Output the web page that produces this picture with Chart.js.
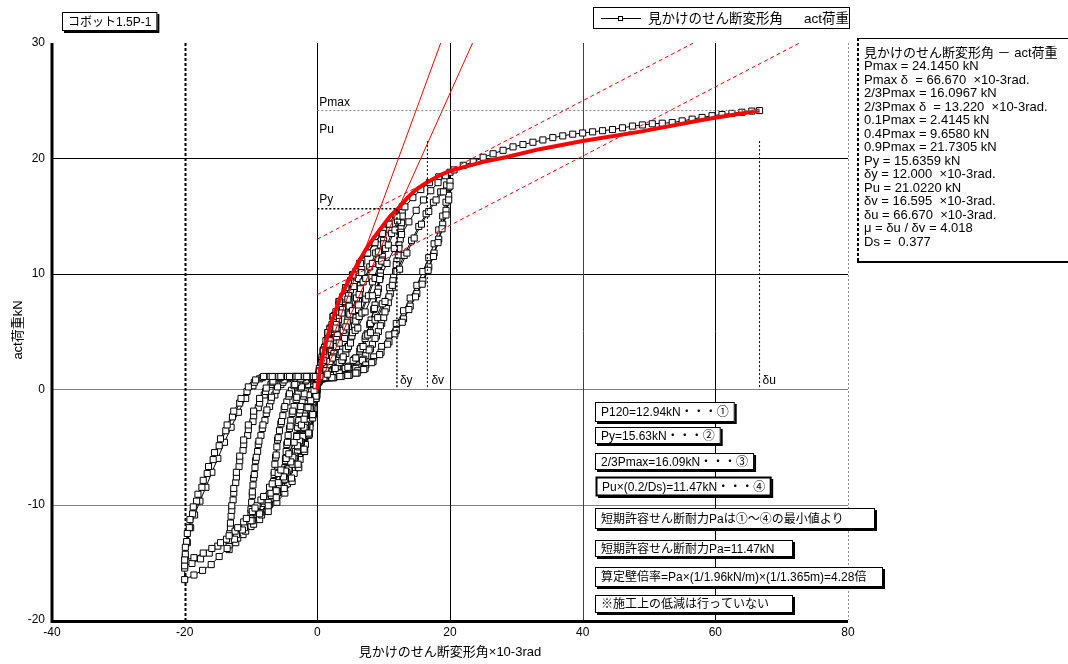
<!DOCTYPE html>
<html lang="ja">
<head>
<meta charset="UTF-8">
<title>見かけのせん断変形角 - act荷重</title>
<script src="https://cdn.jsdelivr.net/npm/chart.js"></script>
<style>
  body { margin: 0; background: #fff; }
  .janela { position: relative; width: 1068px; height: 664px; }
</style>
</head>
<body>
<div class="janela"><canvas id="grafico-histerese"></canvas></div>
<script>
// 履歴ループ (x: 見かけのせん断変形角 ×10-3rad, y: act荷重 kN)
const cyc450 = [
  [0,0],[0.3,1.2],[0.7,2.5],[1.1,3.6],[1.6,4.6],[2.2,5.6],
  [2.1,4.5],[1.9,3.4],[1.6,2.3],[1.2,1.5],[0.7,1.1],[0.2,0.6],
  [-0.2,-0.8],[-0.6,-2.0],[-1.1,-3.0],[-1.6,-3.7],[-2.2,-4.3],
  [-2.1,-3.2],[-1.9,-2.1],[-1.6,-1.0],[-1.2,0.0],[-0.7,0.7],[-0.2,1.0],
  [0.3,1.5],[0.7,2.6],[1.2,3.7],[1.7,4.5],[2.2,5.2],
  [2.0,4.0],[1.8,2.9],[1.4,1.9],[0.9,1.2],[0.4,0.8],
  [-0.1,-0.4],[-0.6,-1.7],[-1.1,-2.7],[-1.7,-3.4],[-2.2,-4.0],
  [-2.0,-2.9],[-1.8,-1.8],[-1.4,-0.7],[-0.9,0.4],[-0.4,0.9],
  [0.2,1.2],[0.8,2.6],[1.3,3.7],[1.8,4.4],[2.2,5.0],
  [2.0,3.8],[1.7,2.6],[1.3,1.6],[0.8,1.0],[0.3,0.7],
  [-0.2,-0.6],[-0.7,-1.8],[-1.2,-2.8],[-1.7,-3.4],[-2.2,-3.9],
  [-2.0,-2.7],[-1.7,-1.6],[-1.3,-0.5],[-0.8,0.5],[-0.3,0.9]
];
const cyc300 = [
  [0.2,1.2],[0.7,2.8],[1.3,4.2],[1.9,5.3],[2.6,6.4],[3.3,7.3],
  [3.2,6.0],[3.0,4.7],[2.7,3.5],[2.2,2.4],[1.6,1.6],[1.0,1.2],[0.4,0.9],
  [-0.1,-0.5],[-0.6,-1.8],[-1.2,-3.0],[-1.8,-4.0],[-2.5,-5.0],[-3.3,-5.9],
  [-3.2,-4.6],[-3.0,-3.3],[-2.7,-2.1],[-2.3,-1.0],[-1.8,0.0],[-1.2,0.7],[-0.6,1.0],
  [0.0,1.1],[0.5,2.1],[1.0,3.2],[1.6,4.3],[2.2,5.3],[2.8,6.1],[3.3,6.8],
  [3.1,5.5],[2.9,4.3],[2.5,3.1],[2.0,2.1],[1.4,1.4],[0.8,1.1],[0.2,0.8],
  [-0.3,-0.6],[-0.8,-1.7],[-1.4,-2.9],[-2.0,-3.9],[-2.7,-4.8],[-3.3,-5.5],
  [-3.1,-4.2],[-2.9,-2.9],[-2.6,-1.8],[-2.1,-0.6],[-1.6,0.3],[-1.0,0.8],[-0.4,1.0],
  [0.2,1.3],[0.7,2.3],[1.2,3.4],[1.8,4.4],[2.4,5.4],[2.9,6.0],[3.3,6.6],
  [3.1,5.3],[2.8,4.0],[2.4,2.8],[1.9,1.9],[1.3,1.3],[0.7,1.0],[0.1,0.7],
  [-0.4,-0.7],[-0.9,-1.8],[-1.5,-2.9],[-2.1,-3.9],[-2.7,-4.7],[-3.3,-5.4],
  [-3.1,-4.0],[-2.8,-2.7],[-2.5,-1.5],[-2.0,-0.4],[-1.5,0.4],[-0.9,0.9],[-0.3,1.0]
];
const cyc200 = [
  [0.3,1.4],[0.9,3.2],[1.6,4.7],[2.4,6.1],[3.3,7.4],[4.2,8.5],[5.0,9.4],
  [4.9,8.0],[4.7,6.6],[4.4,5.2],[4.0,4.0],[3.4,2.9],[2.7,2.0],[2.0,1.4],[1.2,1.1],[0.5,0.9],
  [-0.1,-0.6],[-0.6,-2.0],[-1.2,-3.4],[-1.9,-4.7],[-2.7,-5.9],[-3.5,-6.9],[-4.3,-7.6],[-5.0,-8.2],
  [-4.9,-6.8],[-4.7,-5.4],[-4.4,-4.0],[-4.0,-2.7],[-3.5,-1.5],[-2.9,-0.4],[-2.2,0.5],[-1.4,0.9],[-0.6,1.0],
  [0.2,1.2],[0.9,2.6],[1.6,3.9],[2.4,5.2],[3.2,6.4],[4.0,7.6],[4.6,8.3],[5.0,8.8],
  [4.8,7.4],[4.6,6.0],[4.2,4.7],[3.7,3.5],[3.1,2.5],[2.4,1.7],[1.6,1.2],[0.8,1.0],
  [0.0,0.0],[-0.6,-1.3],[-1.3,-2.7],[-2.0,-4.0],[-2.8,-5.3],[-3.6,-6.3],[-4.4,-7.0],[-5.0,-7.6],
  [-4.8,-6.2],[-4.6,-4.8],[-4.2,-3.4],[-3.8,-2.1],[-3.2,-0.9],[-2.5,0.1],[-1.8,0.7],[-1.0,1.0],[-0.2,1.0],
  [0.5,1.6],[1.2,3.0],[1.9,4.3],[2.7,5.5],[3.5,6.7],[4.3,7.8],[5.0,8.6],
  [4.8,7.2],[4.5,5.8],[4.1,4.4],[3.6,3.2],[3.0,2.3],[2.3,1.6],[1.5,1.2],[0.7,1.0],
  [0.0,0.1],[-0.7,-1.4],[-1.4,-2.8],[-2.2,-4.1],[-3.0,-5.3],[-3.8,-6.3],[-4.5,-6.9],[-5.0,-7.4],
  [-4.8,-6.0],[-4.5,-4.6],[-4.1,-3.2],[-3.7,-1.9],[-3.1,-0.7],[-2.4,0.2],[-1.7,0.8],[-0.9,1.0],[-0.1,1.0]
];
const cyc150 = [
  [0.4,1.8],[1.1,3.6],[1.9,5.2],[2.8,6.7],[3.8,8.0],[4.8,9.2],[5.8,10.2],[6.7,11.1],
  [6.6,9.7],[6.4,8.3],[6.1,6.9],[5.6,5.5],[5.0,4.2],[4.3,3.1],[3.5,2.2],[2.6,1.6],[1.7,1.2],[0.8,1.0],
  [0.0,0.0],[-0.5,-1.7],[-1.1,-3.3],[-1.8,-4.8],[-2.6,-6.1],[-3.5,-7.3],[-4.5,-8.2],[-5.6,-8.9],[-6.7,-9.5],
  [-6.6,-8.0],[-6.4,-6.5],[-6.1,-5.0],[-5.7,-3.6],[-5.2,-2.3],[-4.6,-1.1],[-3.9,-0.1],[-3.1,0.6],[-2.2,1.0],[-1.3,1.1],[-0.4,1.1],
  [0.4,1.5],[1.2,2.8],[2.0,4.2],[2.9,5.6],[3.8,6.9],[4.7,8.1],[5.6,9.2],[6.3,9.9],[6.7,10.4],
  [6.5,9.0],[6.2,7.6],[5.8,6.2],[5.3,4.9],[4.6,3.7],[3.9,2.7],[3.1,1.9],[2.2,1.4],[1.3,1.1],[0.4,0.9],
  [-0.2,-0.3],[-0.9,-1.7],[-1.6,-3.2],[-2.4,-4.6],[-3.3,-5.9],[-4.2,-7.0],[-5.1,-7.9],[-6.0,-8.5],[-6.7,-8.9],
  [-6.5,-7.4],[-6.3,-5.9],[-6.0,-4.4],[-5.5,-3.0],[-5.0,-1.7],[-4.3,-0.6],[-3.5,0.3],[-2.6,0.9],[-1.7,1.1],[-0.8,1.1],
  [0.1,1.1],[1.0,2.5],[1.9,3.9],[2.8,5.3],[3.7,6.6],[4.6,7.8],[5.5,8.9],[6.2,9.6],[6.7,10.1],
  [6.5,8.7],[6.2,7.3],[5.8,5.9],[5.2,4.6],[4.5,3.5],[3.8,2.5],[3.0,1.8],[2.1,1.3],[1.2,1.1],[0.3,0.8],
  [-0.3,-0.4],[-1.0,-1.8],[-1.7,-3.2],[-2.5,-4.6],[-3.4,-5.8],[-4.3,-6.9],[-5.2,-7.7],[-6.1,-8.3],[-6.7,-8.7],
  [-6.5,-7.2],[-6.2,-5.7],[-5.9,-4.2],[-5.4,-2.8],[-4.9,-1.5],[-4.2,-0.4],[-3.4,0.4],[-2.5,0.9],[-1.6,1.1],[-0.7,1.1]
];
const cyc100 = [
  [0.3,1.8],[0.9,3.4],[1.6,4.9],[2.4,6.3],[3.3,7.6],[4.3,8.8],[5.3,9.9],[6.4,10.9],[7.5,11.8],[8.7,12.7],[10.0,13.8],
  [9.9,12.4],[9.7,11.0],[9.4,9.6],[9.0,8.2],[8.5,6.9],[7.9,5.6],[7.2,4.4],[6.4,3.3],[5.5,2.4],[4.5,1.7],[3.5,1.3],[2.4,1.1],[1.3,1.0],[0.3,0.9],
  [-0.2,-0.8],[-0.7,-2.5],[-1.3,-4.0],[-2.0,-5.4],[-2.9,-6.7],[-3.9,-7.8],[-5.0,-8.6],[-6.2,-9.4],[-7.5,-10.1],[-8.8,-10.7],[-10.0,-11.2],
  [-9.9,-9.8],[-9.7,-8.3],[-9.4,-6.8],[-9.0,-5.4],[-8.5,-4.0],[-7.9,-2.7],[-7.2,-1.5],[-6.4,-0.5],[-5.5,0.4],[-4.5,0.9],[-3.4,1.1],[-2.3,1.1],[-1.2,1.1],[-0.1,1.1],
  [0.9,1.3],[1.9,2.4],[2.9,3.7],[3.9,5.1],[4.9,6.5],[5.9,7.9],[6.9,9.3],[7.9,10.6],[8.8,11.8],[9.5,12.5],[10.0,12.9],
  [9.8,11.5],[9.5,10.1],[9.2,8.7],[8.7,7.3],[8.1,6.0],[7.5,4.8],[6.7,3.7],[5.8,2.7],[4.9,2.0],[3.9,1.5],[2.9,1.2],[1.8,1.0],[0.8,0.9],
  [-0.1,0.0],[-0.8,-1.6],[-1.6,-3.1],[-2.5,-4.6],[-3.5,-6.0],[-4.6,-7.2],[-5.7,-8.3],[-6.9,-9.2],[-8.0,-9.9],[-9.1,-10.4],[-10.0,-10.7],
  [-9.8,-9.2],[-9.6,-7.7],[-9.3,-6.2],[-8.9,-4.8],[-8.3,-3.4],[-7.7,-2.1],[-7.0,-1.0],[-6.2,-0.1],[-5.2,0.6],[-4.2,1.0],[-3.1,1.1],[-2.0,1.1],[-0.9,1.1],
  [0.2,1.1],[1.3,1.6],[2.3,2.7],[3.3,4.0],[4.3,5.4],[5.3,6.8],[6.3,8.2],[7.3,9.6],[8.3,10.9],[9.2,11.9],[10.0,12.6],
  [9.8,11.2],[9.5,9.8],[9.1,8.4],[8.6,7.0],[8.0,5.7],[7.3,4.6],[6.5,3.5],[5.6,2.6],[4.7,1.9],[3.7,1.4],[2.7,1.1],[1.6,1.0],[0.6,0.9],
  [-0.2,-0.1],[-1.0,-1.6],[-1.8,-3.1],[-2.7,-4.5],[-3.7,-5.9],[-4.8,-7.1],[-5.9,-8.1],[-7.0,-9.0],[-8.1,-9.7],[-9.1,-10.1],[-10.0,-10.4],
  [-9.8,-8.9],[-9.5,-7.4],[-9.2,-5.9],[-8.8,-4.5],[-8.2,-3.1],[-7.6,-1.8],[-6.9,-0.7],[-6.0,0.2],[-5.0,0.8],[-4.0,1.0],[-2.9,1.1],[-1.8,1.1],[-0.7,1.1]
];
const cyc75 = [
  [0.3,1.6],[0.9,3.3],[1.6,4.9],[2.4,6.3],[3.3,7.6],[4.3,8.8],[5.3,9.9],[6.4,10.9],[7.5,11.8],[8.6,12.7],[9.7,13.5],[10.7,14.3],[11.8,15.1],[12.8,15.8],
  [12.7,14.4],[12.5,13.0],[12.2,11.6],[11.8,10.2],[11.3,8.8],[10.7,7.5],[10.0,6.2],[9.2,5.0],[8.3,3.9],[7.3,2.9],[6.2,2.1],[5.1,1.6],[4.0,1.3],[2.9,1.1],[1.8,1.0],[0.7,0.9],
  [-0.1,-0.5],[-0.6,-2.2],[-1.2,-3.9],[-1.9,-5.4],[-2.8,-6.8],[-3.8,-8.0],[-4.9,-9.0],[-6.1,-9.8],[-7.4,-10.6],[-8.7,-11.3],[-10.0,-11.9],[-11.2,-12.6],[-12.3,-13.3],[-13.3,-13.9],
  [-13.2,-12.5],[-13.0,-11.0],[-12.7,-9.6],[-12.3,-8.1],[-11.8,-6.7],[-11.2,-5.3],[-10.5,-4.0],[-9.7,-2.8],[-8.9,-1.6],[-8.0,-0.5],[-7.0,0.4],[-6.0,0.9],[-4.9,1.1],[-3.7,1.1],[-2.5,1.1],[-1.3,1.1],[-0.1,1.1],
  [1.0,1.2],[2.2,1.5],[3.3,2.3],[4.3,3.5],[5.3,4.9],[6.3,6.3],[7.3,7.8],[8.3,9.3],[9.3,10.8],[10.3,12.2],[11.2,13.5],[12.1,14.6],[12.8,15.3],
  [12.6,13.9],[12.3,12.5],[12.0,11.1],[11.5,9.7],[11.0,8.3],[10.4,7.0],[9.7,5.7],[8.9,4.6],[8.0,3.5],[7.0,2.6],[6.0,1.9],[4.9,1.5],[3.8,1.2],[2.7,1.1],[1.6,1.0],[0.5,0.9],
  [-0.2,-0.2],[-1.0,-1.8],[-1.8,-3.4],[-2.8,-5.0],[-3.8,-6.5],[-4.9,-7.8],[-6.0,-9.0],[-7.2,-10.0],[-8.4,-10.9],[-9.6,-11.7],[-10.8,-12.3],[-12.0,-12.9],[-13.3,-13.5],
  [-13.1,-12.0],[-12.9,-10.5],[-12.6,-9.0],[-12.2,-7.6],[-11.7,-6.2],[-11.1,-4.8],[-10.4,-3.5],[-9.6,-2.3],[-8.7,-1.2],[-7.8,-0.2],[-6.8,0.6],[-5.7,1.0],[-4.6,1.1],[-3.4,1.1],[-2.2,1.1],[-1.0,1.1],
  [0.2,1.1],[1.4,1.2],[2.6,1.6],[3.7,2.5],[4.7,3.7],[5.7,5.1],[6.7,6.6],[7.7,8.1],[8.7,9.6],[9.7,11.1],[10.7,12.5],[11.7,13.8],[12.8,15.0],
  [12.6,13.6],[12.3,12.2],[11.9,10.8],[11.4,9.4],[10.8,8.0],[10.2,6.7],[9.5,5.5],[8.7,4.4],[7.8,3.4],[6.8,2.5],[5.8,1.8],[4.7,1.4],[3.6,1.2],[2.5,1.0],[1.4,1.0],[0.3,0.9],
  [-0.3,-0.2],[-1.1,-1.7],[-2.0,-3.3],[-3.0,-4.9],[-4.0,-6.3],[-5.1,-7.6],[-6.2,-8.8],[-7.4,-9.8],[-8.6,-10.7],[-9.8,-11.4],[-11.0,-12.0],[-12.2,-12.6],[-13.3,-13.1],
  [-13.1,-11.6],[-12.9,-10.1],[-12.6,-8.6],[-12.2,-7.2],[-11.7,-5.8],[-11.1,-4.4],[-10.4,-3.1],[-9.6,-1.9],[-8.7,-0.8],[-7.7,0.1],[-6.7,0.7],[-5.6,1.0],[-4.5,1.1],[-3.3,1.1],[-2.1,1.1],[-0.9,1.1]
];
const cyc50 = [
  [0.3,1.5],[0.9,3.3],[1.6,4.9],[2.4,6.3],[3.3,7.6],[4.3,8.8],[5.4,9.9],[6.5,10.9],[7.6,11.8],[8.7,12.7],[9.8,13.5],[10.9,14.3],[12.0,15.0],[13.2,15.8],[14.4,16.6],[15.6,17.3],[16.9,17.9],[18.3,18.4],[20.0,18.8],
  [19.8,17.5],[19.4,16.2],[18.9,15.0],[18.3,13.8],[17.6,12.6],[16.8,11.4],[15.9,10.2],[15.0,9.0],[14.0,7.9],[13.0,6.8],[11.9,5.7],[10.8,4.7],[9.7,3.7],[8.5,2.8],[7.3,2.1],[6.1,1.6],[4.9,1.3],[3.7,1.2],[2.5,1.1],[1.3,1.0],[0.2,0.9],
  [-0.2,-0.6],[-0.7,-2.2],[-1.3,-3.8],[-2.0,-5.2],[-2.9,-6.5],[-3.9,-7.7],[-5.0,-8.6],[-6.2,-9.4],[-7.4,-10.1],[-8.7,-10.8],[-10.0,-11.4],[-11.3,-12.2],[-12.5,-13.0],[-13.6,-13.8],[-14.8,-14.5],[-16.0,-15.2],[-17.3,-15.7],[-18.6,-16.1],[-20.0,-16.5],
  [-20.0,-15.5],[-19.9,-14.5],[-19.6,-13.3],[-19.1,-12.0],[-18.5,-10.9],[-17.7,-9.7],[-16.8,-8.5],[-15.9,-7.2],[-15.0,-6.0],[-14.0,-4.6],[-13.0,-3.3],[-11.9,-2.0],[-10.8,-0.8],[-9.7,0.3],[-8.7,0.9],[-7.5,1.1],[-6.2,1.1],[-4.9,1.1],[-3.6,1.1],[-2.3,1.1],[-1.0,1.1],
  [0.3,1.1],[1.6,1.2],[2.9,1.4],[4.2,1.8],[5.4,2.5],[6.5,3.5],[7.6,4.7],[8.7,6.0],[9.8,7.4],[10.9,8.8],[12.0,10.2],[13.1,11.6],[14.2,12.9],[15.3,14.1],[16.4,15.2],[17.5,16.2],[18.6,17.1],[19.5,17.7],[20.0,18.0],
  [19.8,16.8],[19.4,15.5],[18.9,14.3],[18.3,13.0],[17.6,11.8],[16.8,10.6],[15.9,9.4],[15.0,8.3],[14.0,7.2],[13.0,6.1],[11.9,5.1],[10.8,4.1],[9.6,3.2],[8.4,2.4],[7.2,1.8],[6.0,1.4],[4.8,1.2],[3.6,1.1],[2.4,1.0],[1.2,1.0],[0.1,0.9],
  [-0.5,-0.1],[-1.4,-1.6],[-2.4,-3.1],[-3.5,-4.6],[-4.7,-6.0],[-5.9,-7.3],[-7.2,-8.5],[-8.5,-9.6],[-9.8,-10.6],[-11.1,-11.5],[-12.4,-12.3],[-13.7,-13.0],[-15.0,-13.6],[-16.3,-14.2],[-17.6,-14.7],[-18.9,-15.1],[-20.0,-15.3],
  [-19.9,-14.3],[-19.7,-13.2],[-19.3,-12.0],[-18.8,-10.8],[-18.2,-9.7],[-17.4,-8.5],[-16.6,-7.3],[-15.7,-6.1],[-14.8,-4.9],[-13.8,-3.6],[-12.8,-2.4],[-11.7,-1.2],[-10.6,-0.2],[-9.5,0.6],[-8.3,1.0],[-7.1,1.1],[-5.8,1.1],[-4.5,1.1],[-3.2,1.1],[-1.9,1.1],[-0.6,1.1],
  [0.7,1.1],[2.0,1.2],[3.3,1.4],[4.6,1.9],[5.8,2.7],[6.9,3.7],[8.0,4.9],[9.1,6.2],[10.2,7.6],[11.3,9.0],[12.4,10.4],[13.5,11.8],[14.6,13.1],[15.7,14.3],[16.8,15.4],[17.9,16.4],[19.0,17.1],[20.0,17.6],
  [19.8,16.4],[19.4,15.1],[18.8,13.9],[18.2,12.7],[17.5,11.5],[16.7,10.3],[15.8,9.1],[14.8,8.0],[13.8,6.9],[12.8,5.8],[11.7,4.8],[10.6,3.9],[9.4,3.0],[8.2,2.3],[7.0,1.7],[5.8,1.4],[4.6,1.2],[3.4,1.1],[2.2,1.0],[1.0,1.0],
  [-0.2,0.3],[-1.0,-1.0],[-2.0,-2.6],[-3.1,-4.1],[-4.3,-5.6],[-5.5,-7.0],[-6.8,-8.2],[-8.1,-9.3],[-9.4,-10.3],[-10.7,-11.2],[-12.0,-12.0],[-13.3,-12.7],[-14.6,-13.3],[-15.9,-13.8],[-17.2,-14.2],[-18.6,-14.6],[-20.0,-14.8],
  [-19.9,-13.7],[-19.6,-12.5],[-19.2,-11.3],[-18.7,-10.2],[-18.0,-9.1],[-17.2,-7.9],[-16.4,-6.7],[-15.5,-5.5],[-14.6,-4.3],[-13.6,-3.1],[-12.6,-1.9],[-11.5,-0.8],[-10.4,0.2],[-9.3,0.8],[-8.1,1.1],[-6.8,1.1],[-5.5,1.1],[-4.2,1.1],[-2.9,1.1],[-1.6,1.1],[-0.3,1.1]
];
const pushFinal = [
  [0.4,1.1],[1.5,1.3],[2.7,1.8],[3.9,2.8],[5.0,4.0],[6.1,5.3],[7.2,6.7],[8.3,8.1],[9.4,9.5],[10.5,10.9],[11.6,12.2],[12.7,13.4],[13.8,14.5],[14.9,15.5],[16.0,16.4],[17.1,17.2],[18.2,17.9],[19.3,18.5],
  [20.6,19.0],[22.0,19.4],[23.5,19.7],[25.0,20.1],[26.5,20.4],[28.0,20.7],[29.5,21.0],[31.0,21.2],[32.5,21.4],[34.0,21.6],[35.5,21.8],[37.0,21.95],[38.5,22.1],[40.0,22.2],
  [41.5,22.3],[43.0,22.4],[44.5,22.5],[46.0,22.65],[47.5,22.8],[49.0,22.9],[50.5,23.0],[52.0,23.05],[53.5,23.1],[55.0,23.25],[56.5,23.4],[58.0,23.55],[59.5,23.7],[61.0,23.8],
  [62.5,23.9],[64.0,24.0],[65.5,24.1],[66.67,24.145]
];

// 包絡線
const envX = [0, 0.5, 1.0, 1.5, 2.26, 3.5, 4.8, 6.0, 7.3, 8.5, 9.8, 11.0, 12.4, 13.6, 14.9, 16.2, 17.4, 18.7, 19.9, 25.0, 28.4, 33.5, 40.0, 48.5, 58.6, 66.67];
const envY = [0, 2.0, 3.4, 4.5, 6.0, 8.0, 9.5, 10.8, 12.1, 13.1, 14.1, 15.0, 15.8, 16.6, 17.3, 17.8, 18.2, 18.6, 18.9, 19.7, 20.1, 20.8, 21.5, 22.3, 23.4, 24.145];

// 評価用の補助線 (端点)
const lineI = [[0, 0.8], [18.6, 30]];
const lineK = [[0, 0], [23.4, 30]];
const lineII = [[0, 8.2], [72.7, 30]];
const lineIII = [[0, 13.0], [56.7, 30]];

const Pmax = 24.145, PmaxDelta = 66.67;
const Py = 15.6359, deltaY = 12.0;
const Pu = 21.022, deltaV = 16.595, deltaU = 66.67;
const vLineTop = 21.5;

const xTicks = [-40, -20, 0, 20, 40, 60, 80];
const yTicks = [-20, -10, 0, 10, 20, 30];

const painelTextos = [
  '見かけのせん断変形角 － act荷重',
  'Pmax = 24.1450 kN',
  'Pmax δ  = 66.670  ×10-3rad.',
  '2/3Pmax = 16.0967 kN',
  '2/3Pmax δ  = 13.220  ×10-3rad.',
  '0.1Pmax = 2.4145 kN',
  '0.4Pmax = 9.6580 kN',
  '0.9Pmax = 21.7305 kN',
  'Py = 15.6359 kN',
  'δy = 12.000  ×10-3rad.',
  'Pu = 21.0220 kN',
  'δv = 16.595  ×10-3rad.',
  'δu = 66.670  ×10-3rad.',
  'μ = δu / δv = 4.018',
  'Ds =  0.377'
];

const caixas = [
  [595, 402, 128, 20, 'P120=12.94kN・・・①', false],
  [595, 427, 113, 17, 'Py=15.63kN・・・②', false],
  [595, 453, 151, 17, '2/3Pmax=16.09kN・・・③', false],
  [596, 477, 173, 19, 'Pu×(0.2/Ds)=11.47kN・・・④', true],
  [595, 508, 280, 21, '短期許容せん断耐力Paは①～④の最小値より', false],
  [595, 540, 198, 17, '短期許容せん断耐力Pa=11.47kN', false],
  [595, 567, 288, 20, '算定壁倍率=Pa×(1/1.96kN/m)×(1/1.365m)=4.28倍', false],
  [595, 595, 198, 18, '※施工上の低減は行っていない', false]
];

const FONTE = '"Liberation Sans", "Noto Sans CJK JP", sans-serif';
const pts = arr => arr.map(p => ({ x: p[0], y: p[1] }));

const hysteresis = [].concat(cyc450, cyc300, cyc200, cyc150, cyc100, cyc75, cyc50, pushFinal);
const envelope = envX.map((x, i) => ({ x: x, y: envY[i] }));

function caixa(ctx, x, y, w, h, texto, grosso, tam) {
    ctx.font = (tam || 12) + 'px ' + FONTE;
    const wt = ctx.measureText(texto).width + 12;
    if (wt > w) w = wt;
    ctx.fillStyle = '#000';
    ctx.fillRect(x + 2, y + 2, w, h);
    ctx.fillStyle = '#fff';
    ctx.fillRect(x, y, w, h);
    ctx.strokeStyle = '#000';
    ctx.lineWidth = grosso ? 2 : 1;
    ctx.strokeRect(x + 0.5, y + 0.5, w - 1, h - 1);
    ctx.fillStyle = '#000';
    ctx.textAlign = 'left';
    ctx.textBaseline = 'middle';
    ctx.fillText(texto, x + 6, y + h / 2 + 1);
}

const gradePlugin = {
    id: 'grade',
    beforeDatasetsDraw(chart) {
        const ctx = chart.ctx, xs = chart.scales.x, ys = chart.scales.y, a = chart.chartArea;
        ctx.save();
        yTicks.forEach(v => {
            if (v === -20 || v === 30) return;
            const py = Math.round(ys.getPixelForValue(v)) + 0.5;
            ctx.strokeStyle = v > 0 ? '#000' : '#808080';
            ctx.lineWidth = 1;
            ctx.setLineDash([]);
            ctx.beginPath(); ctx.moveTo(a.left, py); ctx.lineTo(a.right, py); ctx.stroke();
        });
        xTicks.forEach(v => {
            if (v === -40) return;
            const px = Math.round(xs.getPixelForValue(v)) + 0.5;
            ctx.beginPath();
            if (v === -20) { ctx.strokeStyle = '#000'; ctx.lineWidth = 2; ctx.setLineDash([3, 2]); }
            else if (v === 80) { ctx.strokeStyle = '#909090'; ctx.lineWidth = 1; ctx.setLineDash([2, 2]); }
            else if (v === 40) { ctx.strokeStyle = '#404040'; ctx.lineWidth = 1; ctx.setLineDash([]); }
            else { ctx.strokeStyle = '#000'; ctx.lineWidth = 1; ctx.setLineDash([]); }
            ctx.moveTo(px, a.top); ctx.lineTo(px, a.bottom); ctx.stroke();
        });
        ctx.setLineDash([]);
        ctx.strokeStyle = '#000';
        ctx.lineWidth = 3;
        ctx.beginPath();
        ctx.moveTo(a.left, a.top); ctx.lineTo(a.left, a.bottom + 1.5); ctx.lineTo(a.right, a.bottom + 1.5);
        ctx.stroke();
        ctx.restore();
    },
    afterDatasetsDraw(chart) {
        const ctx = chart.ctx, xs = chart.scales.x, ys = chart.scales.y;
        ctx.save();
        ctx.fillStyle = '#000';
        ctx.font = '12px ' + FONTE;
        ctx.textAlign = 'left';
        ctx.textBaseline = 'middle';
        const x0 = xs.getPixelForValue(0) + 2;
        ctx.fillText('Pmax', x0, ys.getPixelForValue(Pmax) - 8);
        ctx.fillText('Pu', x0, ys.getPixelForValue(Pu) - 17);
        ctx.fillText('Py', x0, ys.getPixelForValue(Py) - 9);
        const yb = ys.getPixelForValue(0) - 9;
        ctx.fillText('δy', xs.getPixelForValue(deltaY) + 3, yb);
        ctx.fillText('δv', xs.getPixelForValue(deltaV) + 4, yb);
        ctx.fillText('δu', xs.getPixelForValue(deltaU) + 3, yb);
        ctx.restore();
    },
    afterDraw(chart) {
        const ctx = chart.ctx;
        ctx.save();
        // タイトル
        caixa(ctx, 62, 12, 93, 19, 'コボット1.5P-1', false, 12);

        // 凡例
        ctx.fillStyle = '#fff';
        ctx.fillRect(593, 7, 256, 22);
        ctx.strokeStyle = '#000';
        ctx.lineWidth = 1;
        ctx.strokeRect(593.5, 7.5, 256, 21);
        ctx.setLineDash([2, 2]);
        ctx.beginPath(); ctx.moveTo(593.5, 7); ctx.lineTo(593.5, 29); ctx.stroke();
        ctx.setLineDash([]);
        ctx.beginPath(); ctx.moveTo(601, 18.5); ctx.lineTo(641, 18.5); ctx.stroke();
        ctx.fillStyle = '#fff';
        ctx.fillRect(618, 16, 5, 5);
        ctx.strokeRect(618.5, 16.5, 4, 4);
        ctx.fillStyle = '#000';
        ctx.font = '13.5px ' + FONTE;
        ctx.textAlign = 'left';
        ctx.textBaseline = 'middle';
        ctx.fillText('見かけのせん断変形角', 648, 19);
        ctx.fillText('act荷重', 804, 19);

        // 軸タイトル
        ctx.font = '13px ' + FONTE;
        ctx.textAlign = 'center';
        ctx.fillText('見かけのせん断変形角×10-3rad', 450, 652);
        ctx.save();
        ctx.translate(18, 330);
        ctx.rotate(-Math.PI / 2);
        ctx.fillText('act荷重kN', 0, 0);
        ctx.restore();

        // 結果パネル
        ctx.fillStyle = '#fff';
        ctx.fillRect(857, 38, 211, 224);
        ctx.strokeStyle = '#000';
        ctx.lineWidth = 1;
        ctx.beginPath(); ctx.moveTo(857, 38.5); ctx.lineTo(1068, 38.5); ctx.stroke();
        ctx.lineWidth = 2;
        ctx.beginPath(); ctx.moveTo(857, 262); ctx.lineTo(1068, 262); ctx.stroke();
        ctx.setLineDash([3, 2]);
        ctx.beginPath(); ctx.moveTo(858, 38); ctx.lineTo(858, 263); ctx.stroke();
        ctx.setLineDash([]);
        ctx.fillStyle = '#000';
        ctx.font = '13px ' + FONTE;
        ctx.textAlign = 'left';
        ctx.textBaseline = 'middle';
        painelTextos.forEach((t, i) => ctx.fillText(t, 864, 53 + i * 13.5));

        // 注記ボックス
        caixas.forEach(c => caixa(ctx, c[0], c[1], c[2], c[3], c[4], c[5], 12));
        ctx.restore();
    }
};

const grafico = new Chart(document.getElementById('grafico-histerese'), {
    type: 'scatter',
    data: {
        datasets: [
            {
                label: '見かけのせん断変形角 - act荷重',
                data: pts(hysteresis),
                showLine: true,
                borderColor: '#000',
                borderWidth: 1,
                pointStyle: 'rect',
                pointRadius: 4.3,
                pointBackgroundColor: '#fff',
                pointBorderColor: '#000',
                pointBorderWidth: 1,
                order: 10
            },
            { data: pts(lineII), showLine: true, borderColor: '#ff0000', borderWidth: 1, borderDash: [4, 3], pointRadius: 0, order: 5 },
            { data: pts(lineIII), showLine: true, borderColor: '#ff0000', borderWidth: 1, borderDash: [4, 3], pointRadius: 0, order: 5 },
            { data: pts(lineI), showLine: true, borderColor: '#ff0000', borderWidth: 1, pointRadius: 0, order: 4 },
            { data: pts(lineK), showLine: true, borderColor: '#ff0000', borderWidth: 1, pointRadius: 0, order: 4 },
            { data: envelope, showLine: true, borderColor: '#ff0000', borderWidth: 4, pointRadius: 0, order: 3 },
            { data: [{ x: 0, y: Pmax }, { x: PmaxDelta, y: Pmax }], showLine: true, borderColor: '#808080', borderWidth: 1, borderDash: [2, 2], pointRadius: 0, order: 2 },
            { data: [{ x: 0, y: Py }, { x: deltaY, y: Py }, { x: deltaY, y: 0 }], showLine: true, borderColor: '#000', borderWidth: 1.5, borderDash: [2, 2], pointRadius: 0, order: 1 },
            { data: [{ x: deltaV, y: vLineTop }, { x: deltaV, y: 0 }], showLine: true, borderColor: '#000', borderWidth: 1, borderDash: [2, 2], pointRadius: 0, order: 1 },
            { data: [{ x: deltaU, y: vLineTop }, { x: deltaU, y: 0 }], showLine: true, borderColor: '#000', borderWidth: 1, borderDash: [2, 2], pointRadius: 0, order: 1 }
        ]
    },
    options: {
        responsive: true,
        maintainAspectRatio: false,
        animation: false,
        layout: { padding: { top: 43, right: 220, left: 0, bottom: 0 } },
        plugins: { legend: { display: false }, tooltip: { enabled: false } },
        scales: {
            x: {
                type: 'linear', min: -40, max: 80,
                afterBuildTicks: s => { s.ticks = xTicks.map(v => ({ value: v })); },
                afterFit: s => { s.height = 44; },
                ticks: { color: '#000', font: { size: 12, family: FONTE }, padding: 5, maxRotation: 0 },
                grid: { display: false, drawTicks: false },
                border: { display: false }
            },
            y: {
                type: 'linear', min: -20, max: 30,
                afterBuildTicks: s => { s.ticks = yTicks.map(v => ({ value: v })); },
                afterFit: s => { s.width = 52; },
                ticks: { color: '#000', font: { size: 12, family: FONTE }, padding: 7 },
                grid: { display: false, drawTicks: false },
                border: { display: false }
            }
        }
    },
    plugins: [gradePlugin]
});
</script>
</body>
</html>
